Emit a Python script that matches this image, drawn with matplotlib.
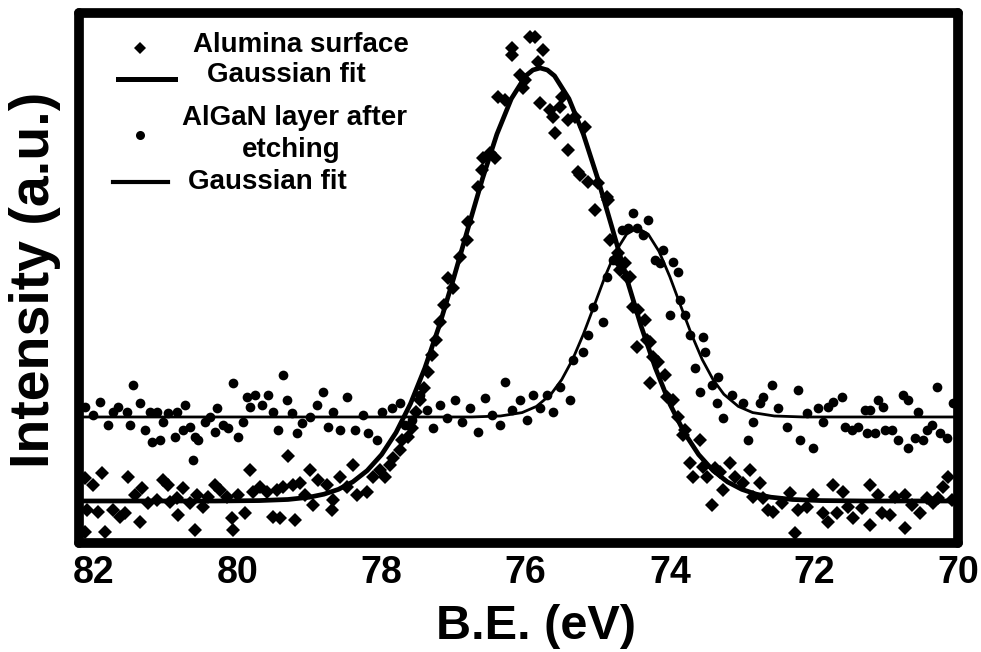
import matplotlib
matplotlib.use("Agg")
import matplotlib.pyplot as plt

plt.rcParams['font.family'] = ['Liberation Sans', 'DejaVu Sans']
plt.rcParams['font.weight'] = 'bold'

# Al 2p spectra, binding energy (eV) vs intensity (a.u.)
alumina_ev = [
    82.12, 82.12, 82.09, 82.01, 81.94, 81.88, 81.84, 81.73, 81.63, 81.56,
    81.52, 81.42, 81.35, 81.33, 81.24, 81.12, 81.03, 80.96, 80.94, 80.84,
    80.83, 80.76, 80.66, 80.59, 80.56, 80.48, 80.41, 80.31, 80.24, 80.15,
    80.08, 80.06, 79.99, 79.90, 79.83, 79.78, 79.69, 79.59, 79.51, 79.45,
    79.41, 79.37, 79.30, 79.23, 79.20, 79.13, 79.06, 78.99, 78.95, 78.88,
    78.76, 78.69, 78.67, 78.58, 78.48, 78.40, 78.34, 78.20, 78.12, 78.02,
    77.95, 77.88, 77.84, 77.74, 77.72, 77.63, 77.58, 77.52, 77.47, 77.41,
    77.36, 77.30, 77.24, 77.19, 77.13, 77.08, 77.01, 76.91, 76.81, 76.80,
    76.66, 76.61, 76.59, 76.50, 76.43, 76.38, 76.29, 76.19, 76.19, 76.08,
    76.04, 76.01, 75.94, 75.87, 75.83, 75.76, 75.80, 75.66, 75.62, 75.59,
    75.52, 75.50, 75.41, 75.41, 75.31, 75.27, 75.25, 75.18, 75.13, 75.04,
    75.00, 74.87, 74.86, 74.83, 74.73, 74.72, 74.62, 74.69, 74.55, 74.59,
    74.51, 74.44, 74.34, 74.45, 74.31, 74.27, 74.23, 74.16, 74.27, 74.07,
    74.04, 73.96, 73.89, 73.79, 73.82, 73.58, 73.72, 73.68, 73.54, 73.48,
    73.37, 73.30, 73.26, 73.41, 73.16, 73.09, 72.98, 72.89, 72.84, 72.75,
    72.71, 72.64, 72.57, 72.44, 72.33, 72.26, 72.22, 72.10, 72.01, 71.87,
    71.80, 71.73, 71.68, 71.60, 71.53, 71.46, 71.33, 71.22, 71.22, 71.11,
    71.05, 70.94, 70.87, 70.73, 70.73, 70.64, 70.53, 70.43, 70.35, 70.28,
    70.21, 70.14, 70.08,
]
alumina_int = [
    65, 11, 33, 58, 31, 70, 11, 33, 26, 30,
    66, 48, 21, 55, 40, 43, 63, 58, 41, 45,
    28, 55, 40, 13, 48, 36, 46, 58, 53, 46,
    25, 13, 48, 30, 73, 51, 56, 51, 26, 53,
    25, 56, 87, 58, 23, 60, 48, 73, 38, 63,
    58, 33, 43, 66, 56, 78, 48, 51, 66, 73,
    66, 78, 85, 93, 103, 106, 115, 131, 143, 155,
    171, 188, 203, 221, 238, 265, 255, 286, 303, 321,
    356, 373, 385, 390, 385, 446, 443, 495, 488, 468,
    455, 463, 506, 506, 481, 493, 440, 433, 426, 410,
    436, 446, 393, 423, 426, 371, 368, 416, 361, 333,
    360, 346, 343, 303, 283, 290, 280, 273, 266, 266,
    236, 233, 223, 196, 203, 201, 186, 181, 160, 168,
    146, 143, 126, 113, 108, 103, 80, 66, 76, 66,
    75, 71, 53, 38, 80, 66, 60, 73, 46, 60,
    45, 33, 31, 40, 50, 10, 33, 36, 48, 30,
    21, 58, 30, 51, 36, 25, 35, 58, 18, 48,
    30, 28, 46, 15, 48, 38, 30, 45, 40, 45,
    56, 66, 43,
]

algan_ev = [
    82.12, 82.01, 81.91, 81.80, 81.73, 81.66, 81.53, 81.49, 81.45, 81.35,
    81.28, 81.21, 81.19, 81.12, 81.08, 81.03, 80.96, 80.87, 80.84, 80.76,
    80.73, 80.66, 80.62, 80.59, 80.55, 80.45, 80.38, 80.31, 80.28, 80.20,
    80.13, 80.06, 79.99, 79.92, 79.87, 79.83, 79.76, 79.66, 79.58, 79.51,
    79.44, 79.37, 79.31, 79.24, 79.17, 79.10, 78.99, 78.90, 78.81, 78.74,
    78.67, 78.58, 78.48, 78.37, 78.26, 78.19, 78.06, 77.99, 77.86, 77.74,
    77.67, 77.58, 77.47, 77.37, 77.29, 77.19, 77.09, 76.98, 76.88, 76.77,
    76.66, 76.56, 76.47, 76.36, 76.29, 76.19, 76.08, 75.98, 75.90, 75.80,
    75.70, 75.62, 75.52, 75.38, 75.34, 75.20, 75.13, 75.07, 74.93, 74.87,
    74.79, 74.66, 74.58, 74.51, 74.46, 74.37, 74.30, 74.21, 74.14, 74.09,
    73.96, 73.89, 74.00, 73.86, 73.79, 73.72, 73.54, 73.51, 73.65, 73.58,
    73.41, 73.33, 73.34, 73.26, 73.14, 72.98, 72.91, 72.84, 72.75, 72.71,
    72.58, 72.50, 72.37, 72.22, 72.19, 72.10, 72.01, 71.94, 71.87, 71.80,
    71.73, 71.61, 71.57, 71.47, 71.39, 71.29, 71.22, 71.26, 71.15, 71.11,
    71.04, 71.01, 70.92, 70.83, 70.76, 70.69, 70.69, 70.60, 70.55, 70.49,
    70.43, 70.36, 70.29, 70.25, 70.15, 70.07,
]
algan_int = [
    136, 128, 141, 118, 131, 136, 131, 118, 158, 140,
    113, 131, 101, 131, 103, 121, 130, 106, 131, 113,
    138, 116, 83, 106, 103, 121, 126, 111, 135, 118,
    115, 160, 106, 121, 146, 136, 148, 138, 148, 131,
    113, 168, 143, 130, 110, 120, 126, 138, 151, 116,
    131, 113, 146, 113, 128, 110, 103, 131, 135, 140,
    118, 123, 148, 133, 115, 138, 125, 143, 121, 135,
    111, 145, 128, 118, 161, 133, 143, 123, 148, 135,
    148, 131, 156, 143, 183, 191, 208, 236, 221, 266,
    283, 313, 315, 330, 315, 308, 323, 283, 280, 293,
    281, 271, 228, 243, 228, 208, 206, 191, 175, 151,
    158, 166, 140, 125, 148, 140, 103, 121, 140, 146,
    158, 135, 116, 153, 103, 130, 95, 135, 121, 136,
    141, 146, 116, 113, 116, 133, 133, 110, 110, 143,
    136, 113, 113, 103, 148, 143, 95, 105, 131, 103,
    113, 118, 156, 110, 105, 140,
]

# Gaussian fit curves, sampled along the energy axis
alumina_fit_ev = [
    82.2, 81.0, 80.3, 79.7, 79.3, 79.0, 78.8, 78.6, 78.4, 78.2,
    78.0, 77.8, 77.6, 77.4, 77.2, 77.0, 76.8, 76.6, 76.4, 76.2,
    76.0, 75.9, 75.8, 75.7, 75.6, 75.4, 75.2, 75.0, 74.8, 74.6,
    74.4, 74.2, 74.0, 73.8, 73.6, 73.4, 73.2, 73.0, 72.8, 72.6,
    72.3, 71.9, 71.3, 70.0,
]
alumina_fit_int = [
    42, 42, 42, 42.4, 43.5, 45.8, 48.8, 53.6, 61.1, 72.4,
    88.4, 110.4, 139.1, 174.9, 217.2, 264.8, 314.9, 364.3, 408.8, 444.2,
    467.1, 473.0, 475.0, 473.0, 467.1, 444.2, 408.8, 364.3, 314.9, 264.8,
    217.2, 174.9, 139.1, 110.4, 88.4, 72.4, 61.1, 53.6, 48.8, 45.8,
    43.5, 42.4, 42, 42,
]

algan_fit_ev = [
    82.2, 77.2, 76.75, 76.35, 76.05, 75.85, 75.65, 75.50, 75.35, 75.20,
    75.05, 74.90, 74.75, 74.60, 74.45, 74.30, 74.15, 74.00, 73.85, 73.70,
    73.55, 73.40, 73.25, 73.05, 72.85, 72.55, 72.15, 70.0,
]
algan_fit_int = [
    126, 126, 126, 127, 130.4, 136.6, 148.7, 163.4, 183.4, 208.7,
    237.3, 266.3, 291.6, 308.8, 315.0, 308.8, 291.6, 266.3, 237.3, 208.7,
    183.4, 163.4, 148.7, 136.6, 130.4, 127, 126, 126,
]

be_ticks = [82, 80, 78, 76, 74, 72, 70]

fig = plt.figure(figsize=(9.81, 6.52), dpi=100)
ax = fig.add_axes([0.0805, 0.1672, 0.8961, 0.8129])

ax.plot(alumina_ev, alumina_int, ls='none', marker='D', ms=7.2, mew=0, color='black')
ax.plot(algan_ev, algan_int, ls='none', marker='o', ms=7.0, mew=0, color='black')
ax.plot(alumina_fit_ev, alumina_fit_int, color='black', lw=3.4, solid_joinstyle='round')
ax.plot(algan_fit_ev, algan_fit_int, color='black', lw=2.0, solid_joinstyle='round')

ax.set_xlim(82.2, 70)
ax.set_ylim(0, 530)
ax.set_xticks(be_ticks)
ax.set_xticklabels([str(t) for t in be_ticks])
ax.tick_params(axis='x', length=0, pad=9, labelsize=27)
ax.set_yticks([])
for sp in ax.spines.values():
    sp.set_linewidth(7)
    sp.set_capstyle('round')

ax.set_xlabel('B.E. (eV)', fontsize=35, fontweight='bold')
ax.xaxis.label.set_va('center')
ax.xaxis.set_label_coords(0.52, -0.158)
ax.set_ylabel('Intensity (a.u.)', fontsize=40, fontweight='bold')
ax.yaxis.label.set_va('center')
ax.yaxis.set_label_coords(-0.05, 0.496)

# hand-placed legend block in the upper left
tr = ax.transAxes
ax.plot([0.0694], [0.934], ls='none', marker='D', ms=6.5, mew=0, color='black', transform=tr)
ax.text(0.1297, 0.9396, 'Alumina surface', fontsize=20, va='center', ha='left', transform=tr)
ax.plot([0.0444, 0.1092], [0.8755, 0.8755], color='black', lw=3.6, transform=tr)
ax.text(0.1456, 0.883, 'Gaussian fit', fontsize=20, va='center', ha='left', transform=tr)
ax.plot([0.0694], [0.7698], ls='none', marker='o', ms=6.5, mew=0, color='black', transform=tr)
ax.text(0.1172, 0.8019, 'AlGaN layer after', fontsize=20, va='center', ha='left', transform=tr)
ax.text(0.2412, 0.7415, 'etching', fontsize=20, va='center', ha='center', transform=tr)
ax.plot([0.0387, 0.1013], [0.6811, 0.6811], color='black', lw=3.0, transform=tr)
ax.text(0.124, 0.6811, 'Gaussian fit', fontsize=20, va='center', ha='left', transform=tr)

fig.savefig('out.png', dpi=100)
